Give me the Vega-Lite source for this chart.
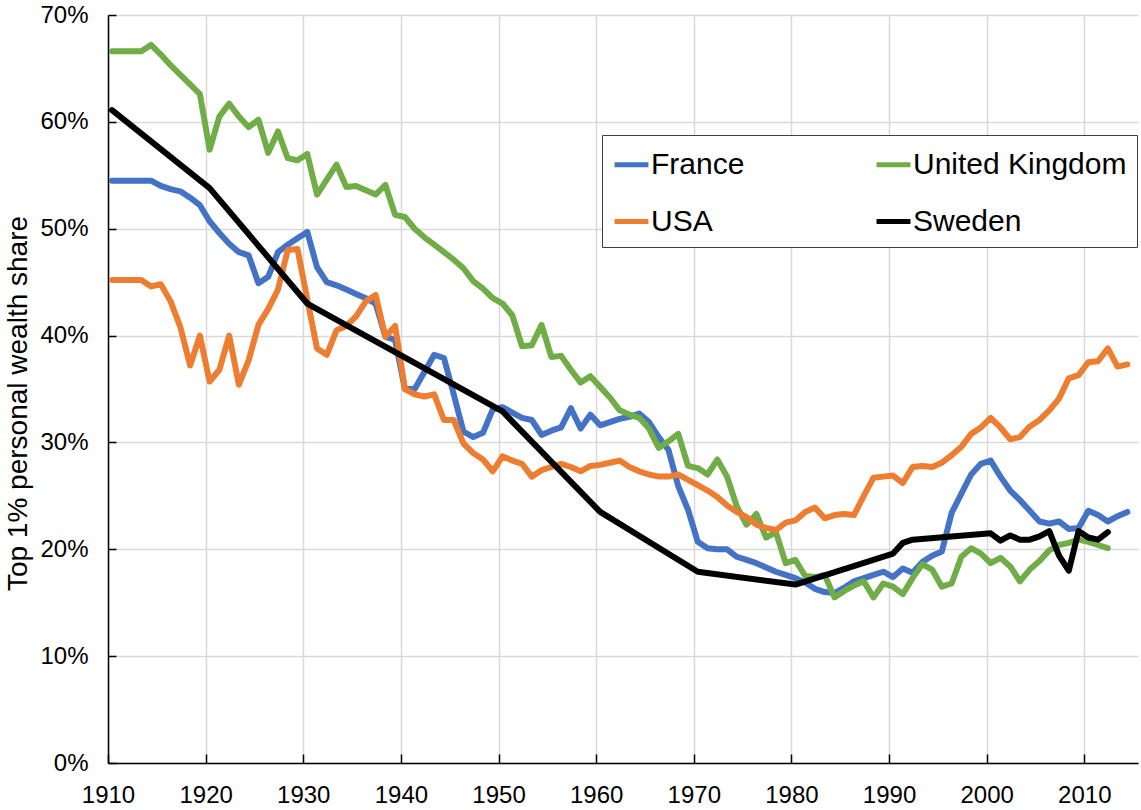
{
  "$schema": "https://vega.github.io/schema/vega-lite/v6.json",
  "width": 1030,
  "height": 748,
  "autosize": {"type": "none"},
  "padding": {"left": 108, "top": 15, "right": 3, "bottom": 47},
  "background": "white",
  "config": {"view": {"stroke": null}, "font": "Liberation Sans"},
  "data": {
    "values": [
      {"country": "France", "year": 1910, "share": 54.5},
      {"country": "France", "year": 1911, "share": 54.5},
      {"country": "France", "year": 1912, "share": 54.5},
      {"country": "France", "year": 1913, "share": 54.5},
      {"country": "France", "year": 1914, "share": 54.5},
      {"country": "France", "year": 1915, "share": 54.0},
      {"country": "France", "year": 1916, "share": 53.7},
      {"country": "France", "year": 1917, "share": 53.5},
      {"country": "France", "year": 1918, "share": 52.9},
      {"country": "France", "year": 1919, "share": 52.2},
      {"country": "France", "year": 1920, "share": 50.7},
      {"country": "France", "year": 1921, "share": 49.6},
      {"country": "France", "year": 1922, "share": 48.6},
      {"country": "France", "year": 1923, "share": 47.8},
      {"country": "France", "year": 1924, "share": 47.5},
      {"country": "France", "year": 1925, "share": 44.9},
      {"country": "France", "year": 1926, "share": 45.5},
      {"country": "France", "year": 1927, "share": 47.8},
      {"country": "France", "year": 1928, "share": 48.5},
      {"country": "France", "year": 1929, "share": 49.1},
      {"country": "France", "year": 1930, "share": 49.7},
      {"country": "France", "year": 1931, "share": 46.4},
      {"country": "France", "year": 1932, "share": 45.0},
      {"country": "France", "year": 1933, "share": 44.7},
      {"country": "France", "year": 1934, "share": 44.3},
      {"country": "France", "year": 1935, "share": 43.9},
      {"country": "France", "year": 1936, "share": 43.5},
      {"country": "France", "year": 1937, "share": 43.0},
      {"country": "France", "year": 1938, "share": 39.9},
      {"country": "France", "year": 1939, "share": 39.6},
      {"country": "France", "year": 1940, "share": 35.0},
      {"country": "France", "year": 1941, "share": 35.0},
      {"country": "France", "year": 1942, "share": 36.6},
      {"country": "France", "year": 1943, "share": 38.2},
      {"country": "France", "year": 1944, "share": 37.9},
      {"country": "France", "year": 1945, "share": 34.5},
      {"country": "France", "year": 1946, "share": 31.0},
      {"country": "France", "year": 1947, "share": 30.5},
      {"country": "France", "year": 1948, "share": 30.9},
      {"country": "France", "year": 1949, "share": 33.1},
      {"country": "France", "year": 1950, "share": 33.3},
      {"country": "France", "year": 1951, "share": 32.8},
      {"country": "France", "year": 1952, "share": 32.3},
      {"country": "France", "year": 1953, "share": 32.1},
      {"country": "France", "year": 1954, "share": 30.7},
      {"country": "France", "year": 1955, "share": 31.1},
      {"country": "France", "year": 1956, "share": 31.4},
      {"country": "France", "year": 1957, "share": 33.2},
      {"country": "France", "year": 1958, "share": 31.3},
      {"country": "France", "year": 1959, "share": 32.6},
      {"country": "France", "year": 1960, "share": 31.6},
      {"country": "France", "year": 1961, "share": 31.9},
      {"country": "France", "year": 1962, "share": 32.2},
      {"country": "France", "year": 1963, "share": 32.4},
      {"country": "France", "year": 1964, "share": 32.7},
      {"country": "France", "year": 1965, "share": 31.9},
      {"country": "France", "year": 1966, "share": 30.5},
      {"country": "France", "year": 1967, "share": 29.3},
      {"country": "France", "year": 1968, "share": 25.9},
      {"country": "France", "year": 1969, "share": 23.7},
      {"country": "France", "year": 1970, "share": 20.7},
      {"country": "France", "year": 1971, "share": 20.1},
      {"country": "France", "year": 1972, "share": 20.0},
      {"country": "France", "year": 1973, "share": 20.0},
      {"country": "France", "year": 1974, "share": 19.3},
      {"country": "France", "year": 1975, "share": 19.0},
      {"country": "France", "year": 1976, "share": 18.7},
      {"country": "France", "year": 1977, "share": 18.3},
      {"country": "France", "year": 1978, "share": 17.9},
      {"country": "France", "year": 1979, "share": 17.6},
      {"country": "France", "year": 1980, "share": 17.3},
      {"country": "France", "year": 1981, "share": 16.9},
      {"country": "France", "year": 1982, "share": 16.3},
      {"country": "France", "year": 1983, "share": 16.0},
      {"country": "France", "year": 1984, "share": 15.9},
      {"country": "France", "year": 1985, "share": 16.4},
      {"country": "France", "year": 1986, "share": 17.0},
      {"country": "France", "year": 1987, "share": 17.3},
      {"country": "France", "year": 1988, "share": 17.6},
      {"country": "France", "year": 1989, "share": 17.9},
      {"country": "France", "year": 1990, "share": 17.4},
      {"country": "France", "year": 1991, "share": 18.2},
      {"country": "France", "year": 1992, "share": 17.8},
      {"country": "France", "year": 1993, "share": 18.8},
      {"country": "France", "year": 1994, "share": 19.4},
      {"country": "France", "year": 1995, "share": 19.8},
      {"country": "France", "year": 1996, "share": 23.4},
      {"country": "France", "year": 1997, "share": 25.2},
      {"country": "France", "year": 1998, "share": 27.0},
      {"country": "France", "year": 1999, "share": 28.0},
      {"country": "France", "year": 2000, "share": 28.3},
      {"country": "France", "year": 2001, "share": 26.8},
      {"country": "France", "year": 2002, "share": 25.5},
      {"country": "France", "year": 2003, "share": 24.6},
      {"country": "France", "year": 2004, "share": 23.6},
      {"country": "France", "year": 2005, "share": 22.6},
      {"country": "France", "year": 2006, "share": 22.4},
      {"country": "France", "year": 2007, "share": 22.6},
      {"country": "France", "year": 2008, "share": 21.9},
      {"country": "France", "year": 2009, "share": 22.0},
      {"country": "France", "year": 2010, "share": 23.6},
      {"country": "France", "year": 2011, "share": 23.2},
      {"country": "France", "year": 2012, "share": 22.6},
      {"country": "France", "year": 2013, "share": 23.1},
      {"country": "France", "year": 2014, "share": 23.5},

      {"country": "United Kingdom", "year": 1910, "share": 66.6},
      {"country": "United Kingdom", "year": 1911, "share": 66.6},
      {"country": "United Kingdom", "year": 1912, "share": 66.6},
      {"country": "United Kingdom", "year": 1913, "share": 66.6},
      {"country": "United Kingdom", "year": 1914, "share": 67.2},
      {"country": "United Kingdom", "year": 1915, "share": 66.3},
      {"country": "United Kingdom", "year": 1916, "share": 65.3},
      {"country": "United Kingdom", "year": 1917, "share": 64.4},
      {"country": "United Kingdom", "year": 1918, "share": 63.5},
      {"country": "United Kingdom", "year": 1919, "share": 62.6},
      {"country": "United Kingdom", "year": 1920, "share": 57.4},
      {"country": "United Kingdom", "year": 1921, "share": 60.5},
      {"country": "United Kingdom", "year": 1922, "share": 61.7},
      {"country": "United Kingdom", "year": 1923, "share": 60.5},
      {"country": "United Kingdom", "year": 1924, "share": 59.5},
      {"country": "United Kingdom", "year": 1925, "share": 60.2},
      {"country": "United Kingdom", "year": 1926, "share": 57.1},
      {"country": "United Kingdom", "year": 1927, "share": 59.1},
      {"country": "United Kingdom", "year": 1928, "share": 56.6},
      {"country": "United Kingdom", "year": 1929, "share": 56.4},
      {"country": "United Kingdom", "year": 1930, "share": 57.0},
      {"country": "United Kingdom", "year": 1931, "share": 53.2},
      {"country": "United Kingdom", "year": 1932, "share": 54.6},
      {"country": "United Kingdom", "year": 1933, "share": 56.0},
      {"country": "United Kingdom", "year": 1934, "share": 53.9},
      {"country": "United Kingdom", "year": 1935, "share": 54.0},
      {"country": "United Kingdom", "year": 1936, "share": 53.6},
      {"country": "United Kingdom", "year": 1937, "share": 53.2},
      {"country": "United Kingdom", "year": 1938, "share": 54.1},
      {"country": "United Kingdom", "year": 1939, "share": 51.3},
      {"country": "United Kingdom", "year": 1940, "share": 51.1},
      {"country": "United Kingdom", "year": 1941, "share": 50.0},
      {"country": "United Kingdom", "year": 1942, "share": 49.2},
      {"country": "United Kingdom", "year": 1943, "share": 48.5},
      {"country": "United Kingdom", "year": 1944, "share": 47.8},
      {"country": "United Kingdom", "year": 1945, "share": 47.1},
      {"country": "United Kingdom", "year": 1946, "share": 46.3},
      {"country": "United Kingdom", "year": 1947, "share": 45.1},
      {"country": "United Kingdom", "year": 1948, "share": 44.4},
      {"country": "United Kingdom", "year": 1949, "share": 43.5},
      {"country": "United Kingdom", "year": 1950, "share": 43.0},
      {"country": "United Kingdom", "year": 1951, "share": 41.9},
      {"country": "United Kingdom", "year": 1952, "share": 39.0},
      {"country": "United Kingdom", "year": 1953, "share": 39.1},
      {"country": "United Kingdom", "year": 1954, "share": 41.0},
      {"country": "United Kingdom", "year": 1955, "share": 38.0},
      {"country": "United Kingdom", "year": 1956, "share": 38.1},
      {"country": "United Kingdom", "year": 1957, "share": 36.8},
      {"country": "United Kingdom", "year": 1958, "share": 35.6},
      {"country": "United Kingdom", "year": 1959, "share": 36.2},
      {"country": "United Kingdom", "year": 1960, "share": 35.2},
      {"country": "United Kingdom", "year": 1961, "share": 34.2},
      {"country": "United Kingdom", "year": 1962, "share": 33.0},
      {"country": "United Kingdom", "year": 1963, "share": 32.6},
      {"country": "United Kingdom", "year": 1964, "share": 32.3},
      {"country": "United Kingdom", "year": 1965, "share": 31.3},
      {"country": "United Kingdom", "year": 1966, "share": 29.5},
      {"country": "United Kingdom", "year": 1967, "share": 30.1},
      {"country": "United Kingdom", "year": 1968, "share": 30.8},
      {"country": "United Kingdom", "year": 1969, "share": 27.8},
      {"country": "United Kingdom", "year": 1970, "share": 27.6},
      {"country": "United Kingdom", "year": 1971, "share": 27.0},
      {"country": "United Kingdom", "year": 1972, "share": 28.4},
      {"country": "United Kingdom", "year": 1973, "share": 26.8},
      {"country": "United Kingdom", "year": 1974, "share": 24.0},
      {"country": "United Kingdom", "year": 1975, "share": 22.3},
      {"country": "United Kingdom", "year": 1976, "share": 23.3},
      {"country": "United Kingdom", "year": 1977, "share": 21.1},
      {"country": "United Kingdom", "year": 1978, "share": 21.6},
      {"country": "United Kingdom", "year": 1979, "share": 18.7},
      {"country": "United Kingdom", "year": 1980, "share": 19.0},
      {"country": "United Kingdom", "year": 1981, "share": 17.5},
      {"country": "United Kingdom", "year": 1982, "share": 17.4},
      {"country": "United Kingdom", "year": 1983, "share": 17.6},
      {"country": "United Kingdom", "year": 1984, "share": 15.5},
      {"country": "United Kingdom", "year": 1985, "share": 16.1},
      {"country": "United Kingdom", "year": 1986, "share": 16.6},
      {"country": "United Kingdom", "year": 1987, "share": 17.0},
      {"country": "United Kingdom", "year": 1988, "share": 15.5},
      {"country": "United Kingdom", "year": 1989, "share": 16.8},
      {"country": "United Kingdom", "year": 1990, "share": 16.5},
      {"country": "United Kingdom", "year": 1991, "share": 15.8},
      {"country": "United Kingdom", "year": 1992, "share": 17.3},
      {"country": "United Kingdom", "year": 1993, "share": 18.6},
      {"country": "United Kingdom", "year": 1994, "share": 18.1},
      {"country": "United Kingdom", "year": 1995, "share": 16.5},
      {"country": "United Kingdom", "year": 1996, "share": 16.8},
      {"country": "United Kingdom", "year": 1997, "share": 19.3},
      {"country": "United Kingdom", "year": 1998, "share": 20.1},
      {"country": "United Kingdom", "year": 1999, "share": 19.6},
      {"country": "United Kingdom", "year": 2000, "share": 18.7},
      {"country": "United Kingdom", "year": 2001, "share": 19.2},
      {"country": "United Kingdom", "year": 2002, "share": 18.4},
      {"country": "United Kingdom", "year": 2003, "share": 17.0},
      {"country": "United Kingdom", "year": 2004, "share": 18.1},
      {"country": "United Kingdom", "year": 2005, "share": 18.9},
      {"country": "United Kingdom", "year": 2006, "share": 19.9},
      {"country": "United Kingdom", "year": 2007, "share": 20.4},
      {"country": "United Kingdom", "year": 2008, "share": 20.6},
      {"country": "United Kingdom", "year": 2009, "share": 20.9},
      {"country": "United Kingdom", "year": 2010, "share": 20.7},
      {"country": "United Kingdom", "year": 2011, "share": 20.4},
      {"country": "United Kingdom", "year": 2012, "share": 20.1},

      {"country": "USA", "year": 1910, "share": 45.2},
      {"country": "USA", "year": 1911, "share": 45.2},
      {"country": "USA", "year": 1912, "share": 45.2},
      {"country": "USA", "year": 1913, "share": 45.2},
      {"country": "USA", "year": 1914, "share": 44.6},
      {"country": "USA", "year": 1915, "share": 44.8},
      {"country": "USA", "year": 1916, "share": 43.2},
      {"country": "USA", "year": 1917, "share": 40.8},
      {"country": "USA", "year": 1918, "share": 37.2},
      {"country": "USA", "year": 1919, "share": 40.0},
      {"country": "USA", "year": 1920, "share": 35.7},
      {"country": "USA", "year": 1921, "share": 36.8},
      {"country": "USA", "year": 1922, "share": 40.0},
      {"country": "USA", "year": 1923, "share": 35.4},
      {"country": "USA", "year": 1924, "share": 37.7},
      {"country": "USA", "year": 1925, "share": 41.0},
      {"country": "USA", "year": 1926, "share": 42.5},
      {"country": "USA", "year": 1927, "share": 44.3},
      {"country": "USA", "year": 1928, "share": 48.0},
      {"country": "USA", "year": 1929, "share": 48.1},
      {"country": "USA", "year": 1930, "share": 43.4},
      {"country": "USA", "year": 1931, "share": 38.8},
      {"country": "USA", "year": 1932, "share": 38.2},
      {"country": "USA", "year": 1933, "share": 40.5},
      {"country": "USA", "year": 1934, "share": 40.9},
      {"country": "USA", "year": 1935, "share": 41.8},
      {"country": "USA", "year": 1936, "share": 43.2},
      {"country": "USA", "year": 1937, "share": 43.8},
      {"country": "USA", "year": 1938, "share": 39.9},
      {"country": "USA", "year": 1939, "share": 40.9},
      {"country": "USA", "year": 1940, "share": 35.0},
      {"country": "USA", "year": 1941, "share": 34.5},
      {"country": "USA", "year": 1942, "share": 34.3},
      {"country": "USA", "year": 1943, "share": 34.5},
      {"country": "USA", "year": 1944, "share": 32.1},
      {"country": "USA", "year": 1945, "share": 32.1},
      {"country": "USA", "year": 1946, "share": 29.9},
      {"country": "USA", "year": 1947, "share": 29.0},
      {"country": "USA", "year": 1948, "share": 28.4},
      {"country": "USA", "year": 1949, "share": 27.3},
      {"country": "USA", "year": 1950, "share": 28.7},
      {"country": "USA", "year": 1951, "share": 28.3},
      {"country": "USA", "year": 1952, "share": 28.0},
      {"country": "USA", "year": 1953, "share": 26.8},
      {"country": "USA", "year": 1954, "share": 27.4},
      {"country": "USA", "year": 1955, "share": 27.7},
      {"country": "USA", "year": 1956, "share": 28.0},
      {"country": "USA", "year": 1957, "share": 27.7},
      {"country": "USA", "year": 1958, "share": 27.3},
      {"country": "USA", "year": 1959, "share": 27.8},
      {"country": "USA", "year": 1960, "share": 27.9},
      {"country": "USA", "year": 1961, "share": 28.1},
      {"country": "USA", "year": 1962, "share": 28.3},
      {"country": "USA", "year": 1963, "share": 27.7},
      {"country": "USA", "year": 1964, "share": 27.3},
      {"country": "USA", "year": 1965, "share": 27.0},
      {"country": "USA", "year": 1966, "share": 26.8},
      {"country": "USA", "year": 1967, "share": 26.8},
      {"country": "USA", "year": 1968, "share": 27.0},
      {"country": "USA", "year": 1969, "share": 26.5},
      {"country": "USA", "year": 1970, "share": 26.0},
      {"country": "USA", "year": 1971, "share": 25.5},
      {"country": "USA", "year": 1972, "share": 24.9},
      {"country": "USA", "year": 1973, "share": 24.1},
      {"country": "USA", "year": 1974, "share": 23.5},
      {"country": "USA", "year": 1975, "share": 23.0},
      {"country": "USA", "year": 1976, "share": 22.3},
      {"country": "USA", "year": 1977, "share": 22.0},
      {"country": "USA", "year": 1978, "share": 21.8},
      {"country": "USA", "year": 1979, "share": 22.5},
      {"country": "USA", "year": 1980, "share": 22.7},
      {"country": "USA", "year": 1981, "share": 23.5},
      {"country": "USA", "year": 1982, "share": 23.9},
      {"country": "USA", "year": 1983, "share": 22.9},
      {"country": "USA", "year": 1984, "share": 23.2},
      {"country": "USA", "year": 1985, "share": 23.3},
      {"country": "USA", "year": 1986, "share": 23.2},
      {"country": "USA", "year": 1987, "share": 25.0},
      {"country": "USA", "year": 1988, "share": 26.7},
      {"country": "USA", "year": 1989, "share": 26.8},
      {"country": "USA", "year": 1990, "share": 26.9},
      {"country": "USA", "year": 1991, "share": 26.2},
      {"country": "USA", "year": 1992, "share": 27.7},
      {"country": "USA", "year": 1993, "share": 27.8},
      {"country": "USA", "year": 1994, "share": 27.7},
      {"country": "USA", "year": 1995, "share": 28.1},
      {"country": "USA", "year": 1996, "share": 28.8},
      {"country": "USA", "year": 1997, "share": 29.6},
      {"country": "USA", "year": 1998, "share": 30.8},
      {"country": "USA", "year": 1999, "share": 31.4},
      {"country": "USA", "year": 2000, "share": 32.3},
      {"country": "USA", "year": 2001, "share": 31.4},
      {"country": "USA", "year": 2002, "share": 30.3},
      {"country": "USA", "year": 2003, "share": 30.5},
      {"country": "USA", "year": 2004, "share": 31.5},
      {"country": "USA", "year": 2005, "share": 32.1},
      {"country": "USA", "year": 2006, "share": 33.0},
      {"country": "USA", "year": 2007, "share": 34.1},
      {"country": "USA", "year": 2008, "share": 36.0},
      {"country": "USA", "year": 2009, "share": 36.3},
      {"country": "USA", "year": 2010, "share": 37.5},
      {"country": "USA", "year": 2011, "share": 37.6},
      {"country": "USA", "year": 2012, "share": 38.8},
      {"country": "USA", "year": 2013, "share": 37.1},
      {"country": "USA", "year": 2014, "share": 37.3},

      {"country": "Sweden", "year": 1910, "share": 61.1},
      {"country": "Sweden", "year": 1920, "share": 53.8},
      {"country": "Sweden", "year": 1930, "share": 43.0},
      {"country": "Sweden", "year": 1950, "share": 32.9},
      {"country": "Sweden", "year": 1960, "share": 23.5},
      {"country": "Sweden", "year": 1970, "share": 17.9},
      {"country": "Sweden", "year": 1980, "share": 16.7},
      {"country": "Sweden", "year": 1990, "share": 19.6},
      {"country": "Sweden", "year": 1991, "share": 20.6},
      {"country": "Sweden", "year": 1992, "share": 20.9},
      {"country": "Sweden", "year": 2000, "share": 21.5},
      {"country": "Sweden", "year": 2001, "share": 20.8},
      {"country": "Sweden", "year": 2002, "share": 21.3},
      {"country": "Sweden", "year": 2003, "share": 20.9},
      {"country": "Sweden", "year": 2004, "share": 20.9},
      {"country": "Sweden", "year": 2005, "share": 21.2},
      {"country": "Sweden", "year": 2006, "share": 21.7},
      {"country": "Sweden", "year": 2007, "share": 19.4},
      {"country": "Sweden", "year": 2008, "share": 18.0},
      {"country": "Sweden", "year": 2009, "share": 21.7},
      {"country": "Sweden", "year": 2010, "share": 21.1},
      {"country": "Sweden", "year": 2011, "share": 20.9},
      {"country": "Sweden", "year": 2012, "share": 21.6}
    ]
  },
  "mark": {"type": "line", "strokeWidth": 6, "strokeCap": "round", "strokeJoin": "round", "xOffset": 4},
  "encoding": {
    "x": {
      "field": "year", "type": "quantitative",
      "scale": {"domain": [1910, 2015.5], "nice": false, "zero": false},
      "axis": {
        "values": [1910, 1920, 1930, 1940, 1950, 1960, 1970, 1980, 1990, 2000, 2010],
        "format": "d", "title": null,
        "grid": true, "gridColor": "#d9d9d9", "gridWidth": 1.5,
        "domainColor": "black", "domainWidth": 1.5,
        "tickColor": "black", "tickWidth": 1.5, "tickSize": -9,
        "labelFontSize": 24, "labelColor": "black", "labelPadding": 29, "labelFlush": false
      }
    },
    "y": {
      "field": "share", "type": "quantitative",
      "scale": {"domain": [0, 70], "nice": false},
      "axis": {
        "values": [0, 10, 20, 30, 40, 50, 60, 70],
        "labelExpr": "datum.value + '%'",
        "title": "Top 1% personal wealth share",
        "titleFontSize": 28, "titleFontWeight": "normal", "titleColor": "black", "titlePadding": 7, "titleY": 388,
        "grid": true, "gridColor": "#d9d9d9", "gridWidth": 1.5,
        "domainColor": "black", "domainWidth": 1.5,
        "tickColor": "black", "tickWidth": 1.5, "tickSize": -8,
        "labelFontSize": 24, "labelColor": "black", "labelPadding": 28, "labelFlush": false
      }
    },
    "color": {
      "field": "country", "type": "nominal",
      "sort": ["France", "USA", "United Kingdom", "Sweden"],
      "scale": {"domain": ["France", "USA", "United Kingdom", "Sweden"], "range": ["#4472C4", "#ED7D31", "#70AD47", "#000000"]},
      "legend": {
        "title": null, "orient": "none", "legendX": 494, "legendY": 120,
        "columns": 2, "symbolType": "stroke", "symbolStrokeWidth": 5, "symbolSize": 1150,
        "labelFontSize": 30, "labelColor": "black", "labelOffset": 0, "labelLimit": 400,
        "strokeColor": "#404040", "fillColor": "white", "padding": 10,
        "columnPadding": 121, "rowPadding": 22
      }
    }
  }
}
